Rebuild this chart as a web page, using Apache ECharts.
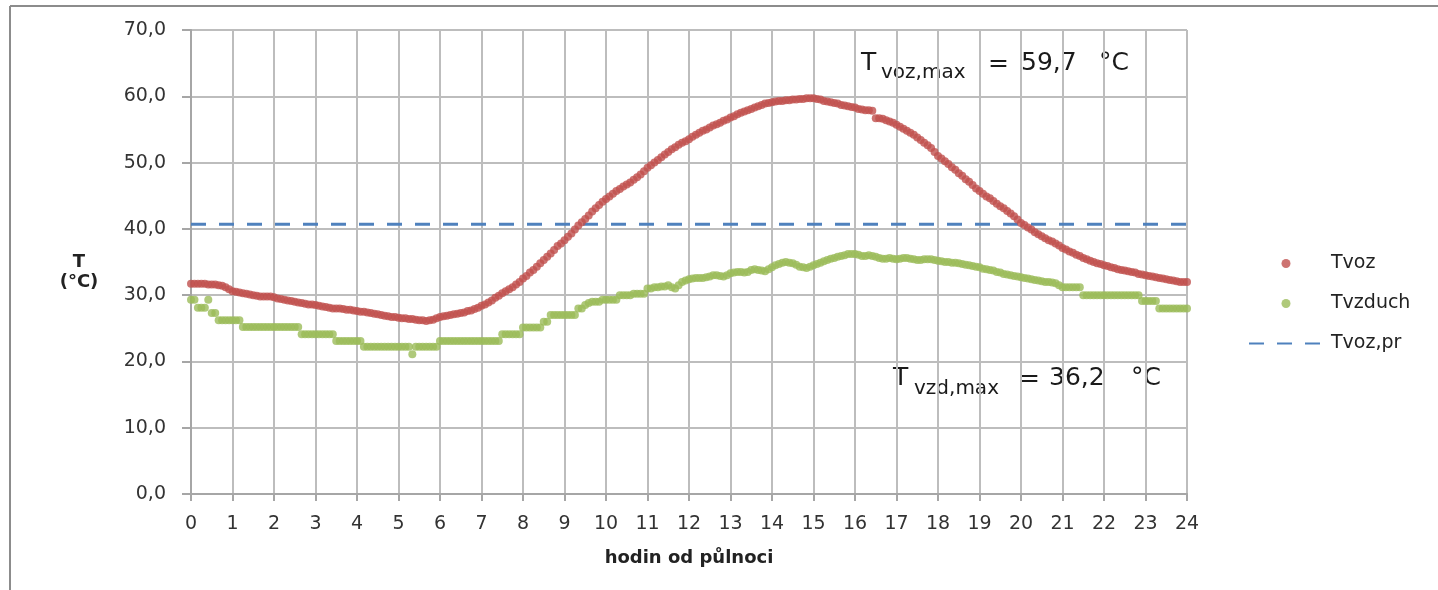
<!DOCTYPE html>
<html>
<head>
<meta charset="utf-8">
<script src="https://cdn.jsdelivr.net/npm/echarts@6/dist/echarts.min.js"></script>
<style>
html,body{margin:0;padding:0;background:#fff;}
#c{width:1438px;height:590px;}
</style>
</head>
<body>
<div id="c"></div>
<script>
// Sampling step of the logged series (minutes)
const stepMinutes = 5;

// Tvoz – road surface temperature (°C), every 5 min from 0:00 to 24:00 (one row per hour)
const tvoz = [
  31.7,31.7,31.7,31.7,31.7,31.6,31.6,31.6,31.5,31.4,31.2,30.9,
  30.6,30.5,30.4,30.3,30.2,30.1,30.0,29.9,29.8,29.8,29.8,29.8,
  29.7,29.5,29.4,29.3,29.2,29.1,29.0,28.9,28.8,28.7,28.6,28.6,
  28.5,28.4,28.3,28.2,28.1,28.0,28.0,28.0,27.9,27.8,27.8,27.7,
  27.6,27.5,27.5,27.4,27.3,27.2,27.1,27.0,26.9,26.8,26.7,26.7,
  26.6,26.5,26.5,26.4,26.4,26.3,26.2,26.2,26.1,26.2,26.3,26.5,
  26.7,26.8,26.9,27.0,27.1,27.2,27.3,27.4,27.6,27.7,27.9,28.1,
  28.4,28.6,28.9,29.2,29.6,29.9,30.3,30.6,30.9,31.2,31.6,32.0,
  32.5,32.9,33.4,33.8,34.3,34.8,35.3,35.8,36.3,36.8,37.4,37.8,
  38.3,38.8,39.3,39.9,40.5,41.0,41.5,42.0,42.6,43.1,43.6,44.1,
  44.5,44.9,45.3,45.7,46.0,46.4,46.7,47.0,47.4,47.8,48.2,48.7,
  49.2,49.6,50.0,50.4,50.8,51.2,51.6,52.0,52.3,52.7,53.0,53.2,
  53.5,53.9,54.2,54.5,54.8,55.0,55.3,55.6,55.8,56.0,56.3,56.5,
  56.8,57.0,57.3,57.5,57.7,57.9,58.1,58.3,58.5,58.7,58.9,59.0,
  59.1,59.2,59.3,59.3,59.4,59.4,59.5,59.5,59.6,59.6,59.7,59.7,
  59.7,59.6,59.5,59.3,59.2,59.1,59.0,58.9,58.7,58.6,58.5,58.4,
  58.3,58.1,58.0,57.9,57.9,57.8,56.7,56.7,56.6,56.4,56.2,56.0,
  55.7,55.4,55.1,54.8,54.5,54.2,53.8,53.4,53.0,52.6,52.2,51.6,
  51.0,50.6,50.2,49.8,49.3,48.9,48.4,48.0,47.5,47.1,46.6,46.1,
  45.7,45.3,44.9,44.6,44.2,43.8,43.4,43.1,42.7,42.3,41.9,41.4,
  40.9,40.6,40.2,39.9,39.5,39.2,38.9,38.6,38.3,38.1,37.8,37.5,
  37.1,36.9,36.6,36.4,36.1,35.9,35.6,35.4,35.2,35.0,34.8,34.7,
  34.5,34.4,34.2,34.1,33.9,33.8,33.7,33.6,33.5,33.4,33.2,33.1,
  33.0,32.9,32.8,32.7,32.6,32.5,32.4,32.3,32.2,32.1,32.0,32.0,
  32.0
];

// Tvzduch – air temperature (°C), every 5 min from 0:00 to 24:00 (one row per hour)
const tvzduch = [
  29.3,29.3,28.1,28.1,28.1,29.3,27.3,27.3,26.2,26.2,26.2,26.2,
  26.2,26.2,26.2,25.2,25.2,25.2,25.2,25.2,25.2,25.2,25.2,25.2,
  25.2,25.2,25.2,25.2,25.2,25.2,25.2,25.2,24.1,24.1,24.1,24.1,
  24.1,24.1,24.1,24.1,24.1,24.1,23.1,23.1,23.1,23.1,23.1,23.1,
  23.1,23.1,22.2,22.2,22.2,22.2,22.2,22.2,22.2,22.2,22.2,22.2,
  22.2,22.2,22.2,22.2,21.1,22.2,22.2,22.2,22.2,22.2,22.2,22.2,
  23.1,23.1,23.1,23.1,23.1,23.1,23.1,23.1,23.1,23.1,23.1,23.1,
  23.1,23.1,23.1,23.1,23.1,23.1,24.1,24.1,24.1,24.1,24.1,24.1,
  25.1,25.1,25.1,25.1,25.1,25.1,26.0,26.0,27.0,27.0,27.0,27.0,
  27.0,27.0,27.0,27.0,28.0,28.0,28.5,28.8,29.0,29.0,29.0,29.3,
  29.3,29.3,29.3,29.3,30.0,30.0,30.0,30.0,30.2,30.2,30.2,30.2,
  31.0,31.0,31.2,31.2,31.3,31.3,31.5,31.2,31.0,31.5,32.0,32.2,
  32.4,32.5,32.6,32.6,32.6,32.7,32.8,33.0,33.0,32.9,32.8,33.0,
  33.3,33.4,33.5,33.5,33.4,33.5,33.8,33.9,33.8,33.7,33.6,33.9,
  34.2,34.5,34.7,34.9,35.0,34.9,34.8,34.6,34.3,34.2,34.1,34.3,
  34.5,34.7,34.9,35.1,35.3,35.5,35.6,35.8,35.9,36.0,36.2,36.2,
  36.2,36.1,35.9,35.9,36.0,35.9,35.8,35.6,35.5,35.5,35.6,35.5,
  35.4,35.5,35.6,35.6,35.5,35.4,35.3,35.3,35.4,35.4,35.4,35.3,
  35.2,35.1,35.0,35.0,34.9,34.9,34.8,34.7,34.6,34.5,34.4,34.3,
  34.2,34.0,33.9,33.8,33.7,33.5,33.4,33.2,33.1,33.0,32.9,32.8,
  32.7,32.6,32.5,32.4,32.3,32.2,32.1,32.0,32.0,31.9,31.8,31.5,
  31.2,31.2,31.2,31.2,31.2,31.2,30.0,30.0,30.0,30.0,30.0,30.0,
  30.0,30.0,30.0,30.0,30.0,30.0,30.0,30.0,30.0,30.0,30.0,29.1,
  29.1,29.1,29.1,29.1,28.0,28.0,28.0,28.0,28.0,28.0,28.0,28.0,
  28.0
];

// Tvoz,pr – constant reference level
const tvozPrHours = [0, 24];
const tvozPrValue = [40.7, 40.7];

// Axis ticks
const xTicks = [0, 24, 1];       // min, max, interval (hours)
const yTicks = [0, 70, 10];      // min, max, interval (°C)

// Annotations
const maxVoz = '59,7';
const maxVzd = '36,2';

const seriesNames = ['Tvoz', 'Tvzduch', 'Tvoz,pr'];

const toPairs = arr => arr.map((v, i) => [i * stepMinutes / 60, v]);

const FONT = 'DejaVu Sans';
const INK = '#1a1a1a';
const chart = echarts.init(document.getElementById('c'), null, {renderer: 'canvas'});

function label(x, y, text, size, align) {
  return {
    type: 'text', x: x, y: y, silent: true,
    style: {text: text, fontFamily: FONT, fontSize: size, fill: INK, align: align || 'left', verticalAlign: 'middle'}
  };
}

chart.setOption({
  animation: false,
  backgroundColor: '#ffffff',
  grid: {left: 191, right: 251, top: 30, bottom: 96, containLabel: false},
  legend: {
    orient: 'vertical',
    left: 1243,
    top: 249,
    itemWidth: 74,
    itemHeight: 9,
    itemGap: 21,
    data: [
      {name: seriesNames[0]},
      {name: seriesNames[1]},
      {name: seriesNames[2], itemStyle: {opacity: 0}}
    ],
    textStyle: {fontFamily: FONT, fontSize: 19, color: '#222', padding: [0, 0, 0, 3]}
  },
  xAxis: {
    type: 'value',
    min: xTicks[0], max: xTicks[1], interval: xTicks[2],
    name: 'hodin od půlnoci',
    nameLocation: 'middle',
    nameGap: 55,
    nameTextStyle: {fontFamily: FONT, fontSize: 18, fontWeight: 'bold', color: '#222'},
    axisLine: {show: true, lineStyle: {color: '#a6a6a6', width: 2}},
    axisTick: {show: true, inside: false, length: 7, lineStyle: {color: '#a6a6a6', width: 2}},
    axisLabel: {fontFamily: FONT, fontSize: 19, color: '#333', margin: 21},
    splitLine: {show: true, lineStyle: {color: '#bdbdbd', width: 2}}
  },
  yAxis: {
    type: 'value',
    min: yTicks[0], max: yTicks[1], interval: yTicks[2],
    axisLine: {show: true, lineStyle: {color: '#a6a6a6', width: 2}},
    axisTick: {show: true, inside: false, length: 9, lineStyle: {color: '#a6a6a6', width: 2}},
    axisLabel: {
      fontFamily: FONT, fontSize: 19, color: '#333', margin: 25,
      formatter: v => v.toFixed(1).replace('.', ',')
    },
    splitLine: {show: true, lineStyle: {color: '#bdbdbd', width: 2}}
  },
  series: [
    {
      name: seriesNames[0], type: 'scatter', symbol: 'circle', symbolSize: 8,
      itemStyle: {color: '#C0504D'}, data: toPairs(tvoz), z: 4
    },
    {
      name: seriesNames[1], type: 'scatter', symbol: 'circle', symbolSize: 8,
      itemStyle: {color: '#9BBB59'}, data: toPairs(tvzduch), z: 3
    },
    {
      name: seriesNames[2], type: 'line', symbol: 'none', showSymbol: false,
      itemStyle: {color: '#4F81BD'},
      lineStyle: {color: '#4F81BD', width: 3, type: [15, 13]},
      data: tvozPrHours.map((h, i) => [h, tvozPrValue[i]]), z: 2
    }
  ],
  graphic: [
    {type: 'line', shape: {x1: 10, y1: 6, x2: 1438, y2: 6}, style: {stroke: '#8c8c8c', lineWidth: 2}, silent: true},
    {type: 'line', shape: {x1: 10, y1: 6, x2: 10, y2: 590}, style: {stroke: '#8c8c8c', lineWidth: 2}, silent: true},
    {
      type: 'text', x: 79, y: 272, silent: true,
      style: {text: 'T\n(°C)', fontFamily: FONT, fontSize: 18, fontWeight: 'bold', fill: '#222', align: 'center', verticalAlign: 'middle', lineHeight: 20}
    },
    // T_voz,max = 59,7 °C
    label(861, 63, 'T', 25),
    label(881, 73, 'voz,max', 20),
    label(988, 64, '=', 25),
    label(1021, 63, maxVoz, 25),
    label(1099, 63, '°C', 25),
    // T_vzd,max = 36,2 °C
    label(893, 378, 'T', 25),
    label(914, 389, 'vzd,max', 20),
    label(1019, 379, '=', 25),
    label(1049, 378, maxVzd, 25),
    label(1131, 378, '°C', 25)
  ]
});
</script>
</body>
</html>
